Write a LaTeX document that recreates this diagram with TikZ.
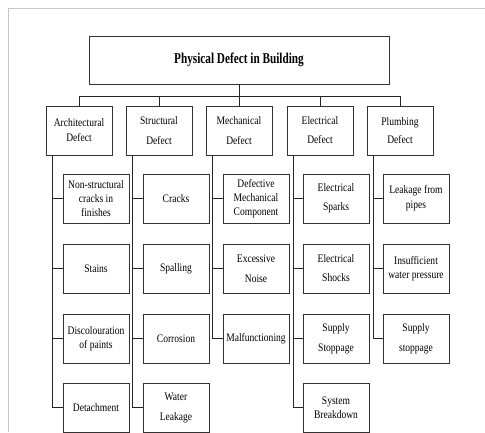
\documentclass[tikz,border=0pt]{standalone}
\usepackage{fontspec}
\setmainfont{Liberation Serif}
\newfontfamily\boxfont[FakeStretch=0.83]{Liberation Serif}
\newfontfamily\headfont[FakeStretch=0.75]{Liberation Serif}
\usetikzlibrary{positioning,calc}
\definecolor{framegray}{HTML}{C8C8C8}
\definecolor{edgegray}{HTML}{333333}

\tikzset{
  defectbox/.style={draw=edgegray, line width=0.9pt, minimum width=66pt, minimum height=49pt,
    inner sep=1pt, align=center, font=\boxfont\fontsize{11.5}{14}\selectfont},
  titlebox/.style={draw=edgegray, line width=0.9pt, minimum width=300pt, minimum height=48pt,
    align=center, font=\headfont\bfseries\fontsize{15}{18}\selectfont},
  link/.style={draw=black!85, line width=0.7pt}
}

\begin{document}
\begin{tikzpicture}[x=1pt,y=-1pt]
\useasboundingbox (0,0) rectangle (485,432);
% page frame
\draw[framegray, line width=1pt] (8,432) -- (8,8) -- (485,8);

% top
\node[titlebox] (title) at (239,60) {Physical Defect in Building};
\coordinate (bus) at (239,96);

% categories
\node[defectbox] (arch)  at (79,130.5)  {Architectural\\[1pt]Defect};
\node[defectbox] (struc) at (159,130.5) {Structural\\[6pt]Defect};
\node[defectbox] (mech)  at (239,130.5) {Mechanical\\[6pt]Defect};
\node[defectbox] (elec)  at (320,130.5) {Electrical\\[5pt]Defect};
\node[defectbox] (plumb) at (400,130.5) {Plumbing\\[4pt]Defect};

% architectural
\node[defectbox] (arch1) at (96,198.5) {Non-structural\\cracks in\\finishes};
\node[defectbox] (arch2) at (96,268.5) {Stains};
\node[defectbox] (arch3) at (96,338.5) {Discolouration\\of paints};
\node[defectbox] (arch4) at (96,407.5) {Detachment};

% structural
\node[defectbox] (struc1) at (176,198.5) {Cracks};
\node[defectbox] (struc2) at (176,268.5) {Spalling};
\node[defectbox] (struc3) at (176,338.5) {Corrosion};
\node[defectbox] (struc4) at (176,407.5) {Water\\[6pt]Leakage};

% mechanical
\node[defectbox] (mech1) at (256,198.5) {Defective\\Mechanical\\Component};
\node[defectbox] (mech2) at (256,268.5) {Excessive\\[6pt]Noise};
\node[defectbox] (mech3) at (256,338.5) {Malfunctioning};

% electrical
\node[defectbox] (elec1) at (336,198.5) {Electrical\\[5pt]Sparks};
\node[defectbox] (elec2) at (336,268.5) {Electrical\\[5pt]Shocks};
\node[defectbox] (elec3) at (336,338.5) {Supply\\[6pt]Stoppage};
\node[defectbox] (elec4) at (336,407.5) {System\\Breakdown};

% plumbing
\node[defectbox] (plumb1) at (416,198.5) {Leakage from\\[1pt]pipes};
\node[defectbox] (plumb2) at (416,268.5) {Insufficient\\water pressure};
\node[defectbox] (plumb3) at (416,338.5) {Supply\\[6pt]stoppage};

% connectors
\draw[link] (title.south) -- (bus);
\foreach \c in {arch,struc,mech,elec,plumb}
  \draw[link] (\c.north) |- (bus);
\foreach \c/\n in {arch/4,struc/4,mech/3,elec/4,plumb/3}
  \foreach \i in {1,...,\n}
    \draw[link] ([xshift=7pt]\c.south west) |- (\c\i.west);
\end{tikzpicture}
\end{document}
